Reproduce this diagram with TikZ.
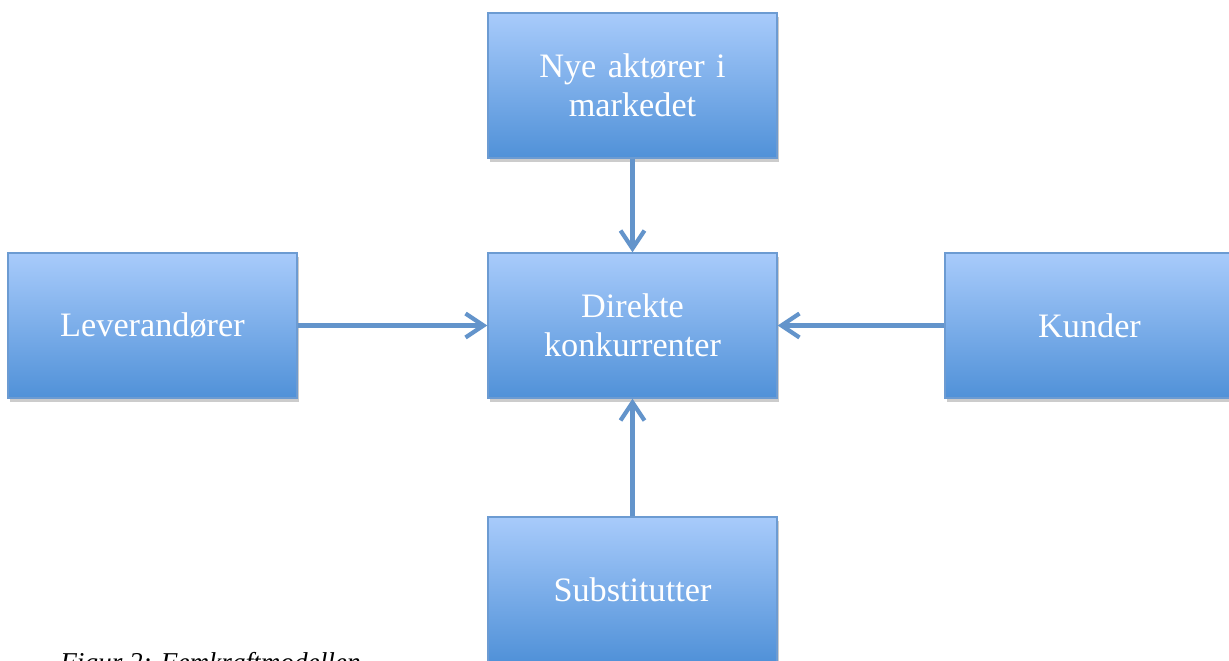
\documentclass[tikz,border=0pt]{standalone}
\usepackage{fontspec}
\usetikzlibrary{arrows.meta,shadows}
\setmainfont{Liberation Serif}
\definecolor{forcetop}{RGB}{168,203,251}
\definecolor{forcebot}{RGB}{80,145,216}
\definecolor{forceline}{RGB}{108,155,210}
\definecolor{forcearrow}{RGB}{99,148,203}

\begin{document}
\begin{tikzpicture}[
      x=0.02cm, y=-0.02cm,
      forcebox/.style={draw=forceline, line width=0.8pt, top color=forcetop, bottom color=forcebot,
        minimum width=5.78cm, minimum height=2.9cm, text width=5.4cm, inner xsep=0.19cm, align=center,
        text=white, font=\fontsize{19.5}{22}\selectfont,
        drop shadow={opacity=0.4, shadow xshift=1.2pt, shadow yshift=-2.2pt}},
      pull/.style={draw=forcearrow, line width=2.4pt, -{Straight Barb[length=3.6mm, width=4.8mm]}}
    ]
      \useasboundingbox (0,0) rectangle (1229,660);

      % the five forces
      \node[forcebox] (nye) at (632.5, 85.5) {Nye aktører i\\markedet};
      \node[forcebox] (dir) at (632.5, 325.5) {Direkte\\konkurrenter};
      \node[forcebox] (lev) at (152.5, 325.5) {Leverandører};
      \node[forcebox] (kun) at (1089.5, 325.5) {Kunder};
      \node[forcebox] (sub) at (632.5, 589.5) {Substitutter};

      % pressure on the direct competitors
      \draw[pull] (nye) -- (dir);
      \draw[pull] (lev) -- (dir);
      \draw[pull] (kun) -- (dir);
      \draw[pull] (sub) -- (dir);

      % caption, cut by the page edge
      \node[anchor=base west, inner sep=0pt, font=\itshape\fontsize{15.5}{18}\selectfont] (cap) at (60, 671) {Figur 2: Femkraftmodellen};
    \end{tikzpicture}
\end{document}
